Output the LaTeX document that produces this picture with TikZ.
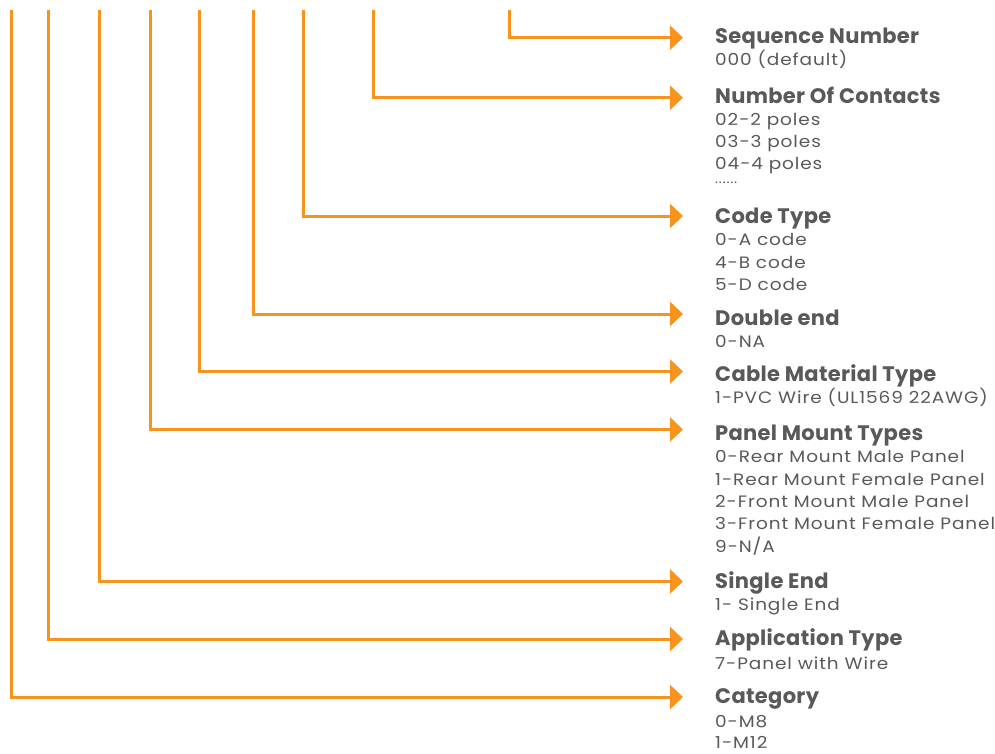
\documentclass[tikz,border=0pt]{standalone}
\usepackage{fontspec}
\setmainfont{Poppins}
\newfontfamily\titlefont[LetterSpace=1.5]{Poppins}
\newfontfamily\bodyfont[FakeStretch=1.12,LetterSpace=5.5]{Poppins}
\usetikzlibrary{arrows.meta}
\definecolor{org}{HTML}{F7941D}
\definecolor{txt}{HTML}{58595B}
\tikzset{
  conn/.style={draw=org, line width=3pt, -{Triangle[length=13pt,width=24pt]}, line join=miter},
  ttl/.style={anchor=base west, inner sep=0pt, text=txt, font=\titlefont\fontsize{21}{22}\selectfont\bfseries},
  itm/.style={anchor=base west, inner sep=0pt, text=txt, font=\bodyfont\fontsize{16.5}{22}\selectfont},
  dots/.style={anchor=base west, inner sep=0pt, text=txt, font=\bodyfont\fontsize{13}{22}\selectfont},
}
\begin{document}
\begin{tikzpicture}[x=1pt,y=-1pt]
\useasboundingbox (0,0) rectangle (995,754);
% start points
\coordinate (s1) at (509,10);
\coordinate (s2) at (373,10);
\coordinate (s3) at (303,10);
\coordinate (s4) at (253,10);
\coordinate (s5) at (199,10);
\coordinate (s6) at (150,10);
\coordinate (s7) at (99,10);
\coordinate (s8) at (48,10);
\coordinate (s9) at (11.5,10);
% arrow tips
\coordinate (e1) at (683,37.7);
\coordinate (e2) at (683,97.7);
\coordinate (e3) at (683,216);
\coordinate (e4) at (683,314);
\coordinate (e5) at (683,371.5);
\coordinate (e6) at (683,429.5);
\coordinate (e7) at (683,581.5);
\coordinate (e8) at (683,639);
\coordinate (e9) at (683,697);
\foreach \i in {1,...,9} \draw[conn] (s\i) |- (e\i);
% texts
\node[ttl] (t1) at (715,43.5) {Sequence Number};
\node[itm] (t1a) at (715,65.5) {000 (default)};
\node[ttl] (t2) at (715,104) {Number Of Contacts};
\node[itm] (t2a) at (715,126) {02-2 poles};
\node[itm] (t2b) at (715,148) {03-3 poles};
\node[itm] (t2c) at (715,170) {04-4 poles};
\node[dots] (t2d) at (715,184) {......};
\node[ttl] (t3) at (715,223) {Code Type};
\node[itm] (t3a) at (715,245.5) {0-A code};
\node[itm] (t3b) at (715,268) {4-B code};
\node[itm] (t3c) at (715,290) {5-D code};
\node[ttl] (t4) at (715,325) {Double end};
\node[itm] (t4a) at (715,347) {0-NA};
\node[ttl] (t5) at (715,381) {Cable Material Type};
\node[itm] (t5a) at (715,403) {1-PVC Wire (UL1569 22AWG)};
\node[ttl] (t6) at (715,440) {Panel Mount Types};
\node[itm] (t6a) at (715,462) {0-Rear Mount Male Panel};
\node[itm] (t6b) at (715,485) {1-Rear Mount Female Panel};
\node[itm] (t6c) at (715,507.5) {2-Front Mount Male Panel};
\node[itm] (t6d) at (715,529.5) {3-Front Mount Female Panel};
\node[itm] (t6e) at (715,552) {9-N/A};
\node[ttl] (t7) at (715,588) {Single End};
\node[itm] (t7a) at (715,610) {1- Single End};
\node[ttl] (t8) at (715,645.5) {Application Type};
\node[itm] (t8a) at (715,669) {7-Panel with Wire};
\node[ttl] (t9) at (715,703.5) {Category};
\node[itm] (t9a) at (715,727) {0-M8};
\node[itm] (t9b) at (715,748.5) {1-M12};
\end{tikzpicture}
\end{document}
